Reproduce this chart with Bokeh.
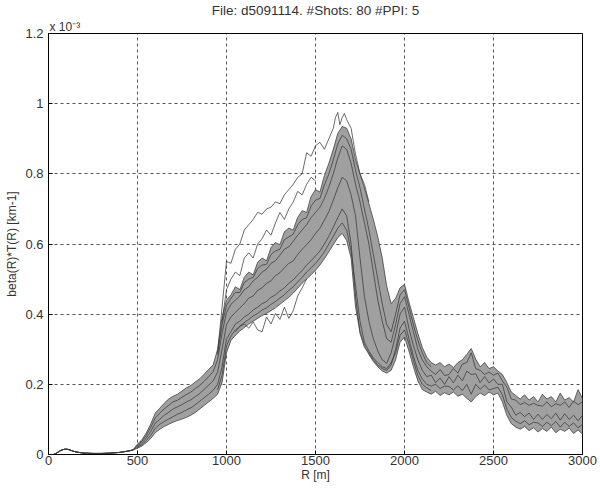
from bokeh.plotting import figure
from bokeh.models import Range1d, CustomJSTickFormatter, Title
from bokeh.embed import file_html
from bokeh.resources import INLINE

TITLE = "File: d5091114. #Shots: 80 #PPI: 5"
EXPONENT = "x 10\u207b\u00b3"
X_LABEL = "R [m]"
Y_LABEL = "beta(R)*T(R) [km-1]"
X_TICKS = [0, 500, 1000, 1500, 2000, 2500, 3000]
Y_TICKS = [0, 0.2, 0.4, 0.6, 0.8, 1.0, 1.2]

# near range (common to all shots), values in units of 1e-3 km-1
NEAR_R = [28, 45, 60, 75, 90, 105, 120, 135, 150, 170, 200, 250, 300, 350, 400, 450, 475]
NEAR_B = [0, .004, .009, .013, .015, .015, .013, .010, .008, .006, .004, .003, .003, .004, .006, .010, .013]

# far range sampled every 25 m from 500 to 3000
R_FAR = list(range(500, 3001, 25))

UPPER = [.030, .042, .062, .088, .118, .132, .146, .158, .166, .172,
         .181, .190, .197, .207, .216, .229, .243, .255, .300, .390,
         .440, .455, .478, .470, .505, .520, .512, .548, .560, .552,
         .590, .604, .598, .635, .645, .640, .676, .695, .690, .735,
         .755, .748, .795, .830, .870, .915, .935, .930, .900, .840,
         .800, .760, .715, .670, .620, .560, .480, .430, .445, .475,
         .485, .435, .390, .345, .305, .278, .262, .255, .262, .250,
         .258, .248, .262, .270, .285, .302, .272, .250, .262, .245,
         .250, .238, .228, .205, .178, .168, .158, .170, .155, .165,
         .150, .172, .158, .165, .150, .175, .155, .162, .150, .185,
         .160]

LOWER = [.018, .024, .034, .046, .062, .072, .080, .086, .092, .097,
         .101, .106, .112, .120, .130, .140, .150, .160, .172, .205,
         .290, .325, .340, .352, .362, .372, .380, .388, .396, .402,
         .410, .418, .428, .438, .448, .460, .474, .488, .500, .512,
         .525, .540, .558, .578, .598, .618, .630, .610, .560, .420,
         .350, .310, .285, .265, .250, .238, .232, .240, .270, .320,
         .335, .295, .250, .210, .185, .178, .172, .180, .168, .176,
         .170, .178, .166, .172, .160, .150, .165, .175, .168, .178,
         .170, .175, .150, .112, .088, .078, .072, .080, .068, .076,
         .064, .074, .066, .078, .062, .072, .066, .075, .060, .070,
         .058]

SHOT_B = [.027, .038, .055, .078, .104, .118, .130, .140, .150, .155,
          .163, .171, .178, .188, .197, .209, .222, .236, .270, .345,
          .405, .428, .440, .452, .470, .478, .495, .505, .520, .528,
          .545, .552, .568, .585, .592, .608, .625, .640, .655, .675,
          .690, .705, .730, .762, .800, .845, .880, .870, .830, .770,
          .720, .660, .600, .520, .440, .380, .330, .320, .370, .430,
          .450, .400, .350, .300, .270, .250, .238, .228, .242, .225,
          .228, .245, .232, .258, .262, .290, .245, .240, .228, .235,
          .226, .232, .210, .192, .158, .155, .142, .148, .140, .146,
          .140, .138, .150, .136, .145, .140, .150, .134, .152, .142,
          .150]

SHOT_C = [.024, .033, .047, .066, .090, .100, .112, .120, .130, .136,
          .142, .150, .156, .165, .174, .186, .198, .210, .235, .300,
          .370, .392, .405, .418, .430, .446, .452, .468, .475, .488,
          .495, .510, .518, .532, .545, .552, .570, .585, .598, .612,
          .630, .645, .668, .692, .725, .760, .790, .780, .740, .680,
          .560, .450, .380, .330, .295, .270, .260, .290, .340, .400,
          .420, .360, .310, .270, .240, .222, .226, .205, .218, .200,
          .222, .204, .226, .210, .238, .228, .230, .205, .222, .204,
          .215, .200, .200, .150, .135, .112, .120, .108, .118, .100,
          .115, .100, .114, .102, .118, .098, .116, .100, .112, .096,
          .112]

SHOT_D = [.021, .028, .040, .055, .075, .086, .094, .101, .108, .115,
          .120, .127, .133, .142, .152, .162, .172, .183, .200, .250,
          .330, .350, .372, .380, .392, .400, .412, .420, .430, .436,
          .448, .455, .466, .475, .488, .498, .512, .524, .540, .552,
          .566, .580, .600, .622, .648, .675, .700, .680, .600, .450,
          .345, .305, .290, .270, .255, .245, .240, .255, .300, .360,
          .380, .330, .280, .240, .215, .200, .195, .200, .188, .195,
          .194, .184, .196, .182, .200, .172, .200, .186, .198, .184,
          .188, .192, .170, .130, .105, .095, .088, .096, .085, .092,
          .090, .080, .092, .082, .094, .078, .092, .080, .090, .076,
          .086]

# two more shots over the main peak region (950 m to 2150 m)
MID_R = list(range(950, 2151, 25))
SHOT_F = [.285, .370, .425, .445, .462, .462, .490, .500, .505, .530,
          .540, .542, .570, .580, .585, .612, .620, .628, .655, .670,
          .675, .708, .725, .730, .768, .800, .840, .885, .910, .900,
          .870, .810, .760, .700, .640, .570, .500, .430, .370, .350,
          .400, .455, .470, .420, .370, .325, .290, .262, .250]
SHOT_G = [.185, .225, .310, .338, .355, .366, .376, .385, .395, .402,
          .412, .418, .428, .436, .446, .455, .468, .478, .492, .505,
          .520, .532, .545, .560, .578, .600, .622, .645, .660, .640,
          .580, .480, .380, .320, .295, .275, .262, .250, .245, .262,
          .290, .340, .355, .315, .268, .225, .200, .190, .182]

# outlier shots
A1_R = [950, 975, 1000, 1025, 1050, 1075, 1100, 1125, 1150, 1175, 1200, 1225, 1250,
        1275, 1300, 1325, 1350, 1375, 1400, 1425, 1450, 1475, 1500, 1525, 1550, 1575,
        1600, 1612, 1625, 1637, 1650, 1662, 1675, 1700, 1725, 1750, 1775, 1800]
A1_B = [.290, .420, .550, .545, .585, .600, .640, .655, .670, .690, .685, .700, .705,
        .720, .715, .740, .755, .770, .790, .800, .860, .850, .880, .890, .870, .900,
        .930, .960, .975, .940, .960, .972, .955, .930, .855, .800, .770, .720]
A2_R = [975, 1000, 1025, 1050, 1075, 1100, 1125, 1150, 1175, 1200, 1225, 1250, 1275,
        1300, 1325, 1350, 1375, 1400, 1425, 1450, 1475, 1500]
A2_B = [.380, .470, .500, .520, .510, .560, .575, .560, .600, .615, .640, .625, .660,
        .690, .670, .700, .720, .750, .740, .770, .790, .780]
E_R = [1050, 1075, 1100, 1125, 1150, 1175, 1200, 1225, 1250, 1275, 1300, 1325, 1350,
       1375, 1400, 1425, 1450]
E_B = [.350, .365, .372, .360, .378, .355, .350, .392, .372, .402, .385, .420, .388,
       .410, .452, .475, .500]

FONT = "Liberation Sans"
TXT = "#333333"

p = figure(width=600, height=489, x_range=Range1d(0, 3000), y_range=Range1d(0, 1.2),
           output_backend="svg", toolbar_location=None, title_location=None,
           min_border_left=48, min_border_right=18, min_border_top=30, min_border_bottom=35)
p.background_fill_color = "white"
p.border_fill_color = "white"
p.outline_line_color = "black"
p.outline_line_width = 1

# exponent note (closest to the frame), then the main title above it
p.add_layout(Title(text=EXPONENT, align="left", offset=1, standoff=0,
                   text_font=FONT, text_font_size="12px", text_font_style="normal",
                   text_color=TXT), "above")
p.add_layout(Title(text=TITLE, align="center", standoff=0,
                   text_font=FONT, text_font_size="13.5px", text_font_style="normal",
                   text_color=TXT), "above")

for ax, ticks in ((p.xaxis, X_TICKS), (p.yaxis, Y_TICKS)):
    ax.ticker = ticks
    ax.major_tick_in = 4
    ax.major_tick_out = 0
    ax.minor_tick_line_color = None
    ax.axis_line_color = "black"
    ax.major_tick_line_color = "black"
    ax.major_label_text_font = FONT
    ax.major_label_text_font_size = "13px"
    ax.major_label_text_color = TXT
    ax.axis_label_text_font = FONT
    ax.axis_label_text_font_size = "12px"
    ax.axis_label_text_font_style = "normal"
    ax.axis_label_text_color = TXT

p.xaxis.axis_label = X_LABEL
p.yaxis.axis_label = Y_LABEL
p.xaxis.major_label_standoff = 1
p.xaxis.axis_label_standoff = 0
p.yaxis.major_label_standoff = 5
p.yaxis.axis_label_standoff = 3
p.yaxis.formatter = CustomJSTickFormatter(
    code="return tick == 0 ? '0' : String(Math.round(tick * 10) / 10);")

p.xgrid.ticker = X_TICKS
p.ygrid.ticker = Y_TICKS
for g in (p.xgrid, p.ygrid):
    g.grid_line_color = "#555555"
    g.grid_line_dash = "3 3"
    g.grid_line_width = 1

# shot band
p.varea(x=R_FAR, y1=LOWER, y2=UPPER, fill_color="#a0a0a0")

series = [UPPER, LOWER, SHOT_B, SHOT_C, SHOT_D]
xs = [NEAR_R + R_FAR for _ in series]
ys = [NEAR_B + s for s in series]
xs += [MID_R, MID_R, A1_R, A2_R, E_R]
ys += [SHOT_F, SHOT_G, A1_B, A2_B, E_B]
p.multi_line(xs=xs, ys=ys, line_color="#3a3a3a", line_width=0.75)

open("out.html", "w").write(file_html(p, INLINE))
